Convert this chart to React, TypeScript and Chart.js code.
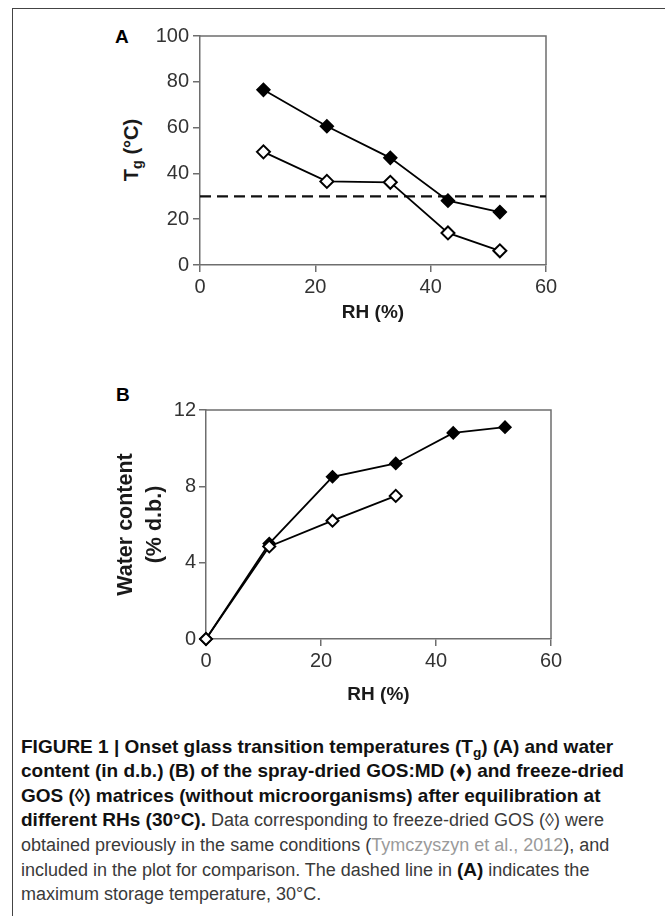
import React, { useEffect, useRef } from "react";
import { Chart, registerables } from "chart.js";

Chart.register(...registerables);

// ---------- data ----------
const rhRange = [0, 60];
const rhTicks = [0, 20, 40, 60];

// Panel A: onset Tg (°C) vs RH (%)
const rhA = [11, 22, 33, 43, 52];
const tgSprayDried = [76.5, 60.6, 46.8, 28.1, 23.1];
const tgFreezeDried = [49.4, 36.5, 36.1, 14.0, 6.2];
const storageTemp = 30;
const tgTicks = [0, 20, 40, 60, 80, 100];

// Panel B: water content (% d.b.) vs RH (%)
const rhBSpray = [0, 11, 22, 33, 43, 52];
const wcSprayDried = [0, 5.0, 8.5, 9.2, 10.8, 11.1];
const rhBFreeze = [0, 11, 22, 33];
const wcFreezeDried = [0, 4.85, 6.2, 7.5];
const wcTicks = [0, 4, 8, 12];

// ---------- styles ----------
const FONT = '"Liberation Sans", Arial, Helvetica, sans-serif';
const AXIS = "#6e6e6e";
const TICK = "#333333";
const TITLE = "#1a1a1a";

const framePlugin = {
  id: "frame",
  beforeDatasetsDraw(chart: any) {
    const { ctx, chartArea } = chart;
    const { left, top, right, bottom } = chartArea;
    ctx.save();
    ctx.strokeStyle = AXIS;
    ctx.lineWidth = 1.5;
    ctx.beginPath();
    ctx.moveTo(left, top);
    ctx.lineTo(right, top);
    ctx.lineTo(right, bottom);
    ctx.stroke();
    ctx.restore();
  },
};

function toPoints(xs: number[], ys: number[]) {
  return xs.map((x, i) => ({ x, y: ys[i] }));
}

function seriesDataset(xs: number[], ys: number[], filled: boolean, radius: number) {
  return {
    data: toPoints(xs, ys),
    borderColor: "#000",
    borderWidth: 1.8,
    pointStyle: "rectRot",
    pointRadius: radius,
    pointBorderWidth: filled ? 1.5 : 2,
    pointBorderColor: "#000",
    pointBackgroundColor: filled ? "#000" : "#fff",
    tension: 0,
    clip: false,
  };
}

function xAxis(height: number, titlePadBottom: number) {
  return {
    type: "linear",
    min: rhRange[0],
    max: rhRange[1],
    afterBuildTicks: (s: any) => {
      s.ticks = rhTicks.map((v) => ({ value: v }));
    },
    afterFit: (s: any) => {
      s.height = height;
    },
    grid: { display: true, drawOnChartArea: false, drawTicks: true, tickLength: 7, color: AXIS, lineWidth: 1.5 },
    border: { display: true, color: AXIS, width: 1.5 },
    ticks: { color: TICK, font: { family: FONT, size: 20 }, padding: 3, maxRotation: 0 },
    title: {
      display: true,
      text: "RH (%)",
      color: TITLE,
      font: { family: FONT, size: 19, weight: "bold", lineHeight: 1.2 },
      padding: { top: 0, bottom: titlePadBottom },
    },
  };
}

function yAxis(min: number, max: number, ticks: number[], width: number, pad: number, title?: any) {
  return {
    type: "linear",
    min,
    max,
    afterBuildTicks: (s: any) => {
      s.ticks = ticks.map((v) => ({ value: v }));
    },
    afterFit: (s: any) => {
      s.width = width;
    },
    grid: { display: true, drawOnChartArea: false, drawTicks: true, tickLength: 7, color: AXIS, lineWidth: 1.5 },
    border: { display: true, color: AXIS, width: 1.5 },
    ticks: { color: TICK, font: { family: FONT, size: 20 }, padding: pad },
    title: title || { display: false },
  };
}

function ChartCanvas({ left, top, width, height, config }: any) {
  const ref = useRef<HTMLCanvasElement | null>(null);
  useEffect(() => {
    if (!ref.current) return;
    const chart = new Chart(ref.current, config);
    return () => chart.destroy();
  }, []);
  return (
    <canvas
      ref={ref}
      width={width}
      height={height}
      style={{ position: "absolute", left, top, width, height }}
    />
  );
}

const configA = {
  type: "line",
  data: {
    datasets: [
      seriesDataset(rhA, tgFreezeDried, false, 6.5),
      seriesDataset(rhA, tgSprayDried, true, 6.5),
      {
        data: [
          { x: rhRange[0], y: storageTemp },
          { x: rhRange[1], y: storageTemp },
        ],
        borderColor: "#111",
        borderWidth: 2.2,
        borderDash: [11, 6],
        pointRadius: 0,
        clip: false,
      },
    ],
  },
  options: {
    responsive: false,
    animation: false,
    layout: { padding: { top: 14, right: 24, left: 0, bottom: 0 } },
    plugins: { legend: { display: false }, tooltip: { enabled: false } },
    scales: {
      x: xAxis(65, 5.6),
      y: yAxis(0, 100, tgTicks, 100, 4),
    },
  },
  plugins: [framePlugin],
};

const configB = {
  type: "line",
  data: {
    datasets: [
      seriesDataset(rhBFreeze, wcFreezeDried, false, 6),
      seriesDataset(rhBSpray, wcSprayDried, true, 6),
    ],
  },
  options: {
    responsive: false,
    animation: false,
    layout: { padding: { top: 14, right: 29, left: 0, bottom: 0 } },
    plugins: { legend: { display: false }, tooltip: { enabled: false } },
    scales: {
      x: xAxis(71, 3.6),
      y: yAxis(0, 12, wcTicks, 116, 3, {
        display: true,
        text: ["Water content", "(% d.b.)"],
        color: TITLE,
        font: { family: FONT, size: 21.5, weight: "bold", lineHeight: 1.33 },
        padding: { top: 21.7, bottom: 0 },
      }),
    },
  },
  plugins: [framePlugin],
};

const subStyle: React.CSSProperties = { fontSize: "0.72em", verticalAlign: "-0.3em", lineHeight: 0 };
const boldStyle: React.CSSProperties = { color: "#111", fontWeight: "bold", fontSize: "19px" };

export default function App() {
  return (
    <div
      style={{
        position: "absolute",
        left: 0,
        top: 0,
        width: 665,
        height: 916,
        overflow: "hidden",
        background: "#fff",
      }}
    >
      <div
        style={{
          position: "absolute",
          left: 12,
          top: 8,
          width: 700,
          height: 1000,
          border: "1px solid #444",
          boxSizing: "border-box",
        }}
      />

      {/* Panel labels */}
      <div style={{ position: "absolute", left: 115, top: 26.5, font: `bold 19px ${FONT}`, lineHeight: "19px", color: "#000" }}>A</div>
      <div style={{ position: "absolute", left: 116, top: 384.5, font: `bold 19px ${FONT}`, lineHeight: "19px", color: "#000" }}>B</div>

      {/* Panel A y-axis title */}
      <div
        style={{
          position: "absolute",
          left: 131,
          top: 150,
          transform: "translate(-50%, -50%) rotate(-90deg)",
          font: `bold 20px ${FONT}`,
          lineHeight: "24px",
          whiteSpace: "nowrap",
          color: TITLE,
        }}
      >
        T<sub style={subStyle}>g</sub> (°C)
      </div>

      <ChartCanvas left={100} top={20} width={470} height={310} config={configA} />
      <ChartCanvas left={90} top={395} width={490} height={315} config={configB} />

      {/* Caption */}
      <div
        style={{
          position: "absolute",
          left: 21,
          top: 734.7,
          font: `18px ${FONT}`,
          lineHeight: "24.6px",
          color: "#3a3a3a",
          whiteSpace: "nowrap",
        }}
      >
        <span style={boldStyle}>
          FIGURE 1 | Onset glass transition temperatures (T<sub style={subStyle}>g</sub>) (A) and water
        </span>
        <br />
        <span style={boldStyle}>content (in d.b.) (B) of the spray-dried GOS:MD (♦) and freeze-dried</span>
        <br />
        <span style={boldStyle}>GOS (◊) matrices (without microorganisms) after equilibration at</span>
        <br />
        <span style={boldStyle}>different RHs (30°C).</span> Data corresponding to freeze-dried GOS (◊) were
        <br />
        obtained previously in the same conditions (<span style={{ color: "#9a9a9a" }}>Tymczyszyn et al., 2012</span>), and
        <br />
        included in the plot for comparison. The dashed line in <span style={boldStyle}>(A)</span> indicates the
        <br />
        maximum storage temperature, 30°C.
      </div>
    </div>
  );
}
